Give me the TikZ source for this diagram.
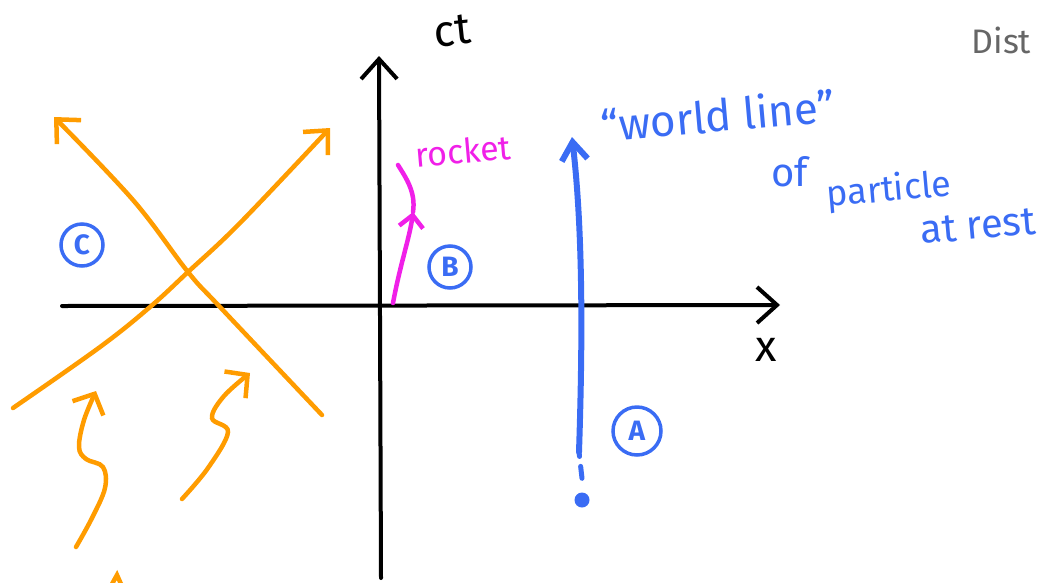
\documentclass[tikz,border=0pt]{standalone}
\usepackage{fontspec}
\setmainfont{Fira Sans}
\usetikzlibrary{arrows.meta,positioning}
\definecolor{skBlue}{HTML}{3A6CF4}
\definecolor{skOrange}{HTML}{FF9C00}
\definecolor{skPink}{HTML}{F020E8}
\definecolor{skGrey}{HTML}{666666}
\tikzset{
    % axes and labels
    axis/.style={line width=4pt, line cap=round, black, -{Straight Barb[length=20pt,width=36pt]}},
    axlabel/.style={font=\fontsize{44}{44}\selectfont, text=black},
    % light cone and pointers
    cone/.style={line width=4.5pt, line cap=round, skOrange, -{Straight Barb[length=18pt,width=34pt]}},
    wiggle/.style={line width=4.5pt, line cap=round, skOrange, -{Straight Barb[length=16pt,width=34pt]}},
    % rocket
    rocketpath/.style={line width=4.5pt, line cap=round, skPink},
    rocketlabel/.style={font=\fontsize{34}{34}\selectfont, text=skPink},
    % particle at rest
    world/.style={line width=6pt, line cap=round, skBlue, -{Straight Barb[length=18pt,width=26pt]}},
    worlddots/.style={line width=5pt, line cap=round, skBlue, dash pattern=on 12pt off 10pt},
    dot/.style={circle, fill=skBlue, inner sep=0pt, minimum size=15pt},
    note/.style={font=\fontsize{40}{40}\selectfont, text=skBlue},
    tag/.style={circle, draw=skBlue, line width=3.5pt, text=skBlue, inner sep=0pt, minimum size=42pt, font=\fontsize{28}{28}\selectfont\bfseries}
}
\begin{document}
\begin{tikzpicture}[x=1pt, y=-1pt]
    \useasboundingbox (0,0) rectangle (1057,582);

    % spacetime axes
    \coordinate (xstart) at (62,306);
    \coordinate (xend) at (780,305);
    \coordinate (tstart) at (381,578);
    \coordinate (tend) at (379,56);
    \draw[axis] (xstart) -- (xend);
    \draw[axis] (tstart) -- (tend);
    \node[axlabel, rotate=6] (ctlabel) at (452,31) {ct};
    \node[axlabel] (xlabel) at (766,350) {x};

    % light cone
    \draw[cone] plot[smooth, tension=0.6] coordinates {(13,408) (100,347) (150,307) (188,272) (240,223) (330,128)};
    \draw[cone] plot[smooth, tension=0.6] coordinates {(322,415) (220,307) (188,272) (133,200) (54,117)};
    \node[tag] (tagC) at (82,245) {C};

    % pointers to the cone
    \draw[wiggle] plot[smooth, tension=0.6] coordinates {(76,547) (92,518) (105,488) (103,467) (86,459) (79,447) (84,420) (96,391)};
    \draw[wiggle] plot[smooth, tension=0.6] coordinates {(182,499) (208,468) (228,432) (212,418) (224,396) (250,373)};
    \draw[line width=4.5pt, line cap=round, skOrange] (112,584) -- (117,575) -- (121,584);

    % rocket
    \coordinate (rstart) at (393,303);
    \coordinate (rmid) at (413,212);
    \coordinate (rend) at (398,165);
    \draw[rocketpath, -{Straight Barb[length=12pt,width=24pt]}] (rstart) .. controls (400,265) and (410,236) .. (rmid);
    \draw[rocketpath] (rmid) .. controls (416,192) and (406,178) .. (rend);
    \node[rocketlabel, rotate=5] (rocketname) at (463,151) {rocket};
    \node[tag] (tagB) at (450,267) {B};

    % world line of particle at rest
    \node[dot] (particle) at (582,500) {};
    \coordinate (wbottom) at (579,452);
    \coordinate (wtop) at (572,137);
    \draw[worlddots] (particle.north) ++(0,-14) -- (wbottom);
    \draw[world] (wbottom) .. controls (582,360) and (584,240) .. (wtop);
    \node[tag, minimum size=48pt] (tagA) at (637,431) {A};

    % notes
    \node[note, rotate=5, font=\fontsize{44}{44}\selectfont] (wlabel) at (718,115) {``world line''};
    \node[note] (oflabel) at (790,172) {of};
    \node[note, rotate=5, font=\fontsize{36}{36}\selectfont] (plabel) at (889,191) {particle};
    \node[note, rotate=5] (rlabel) at (978,226) {at rest};
    \node[anchor=west, text=skGrey, font=\fontsize{34}{34}\selectfont] (distlabel) at (968,40) {Dist};
\end{tikzpicture}
\end{document}
